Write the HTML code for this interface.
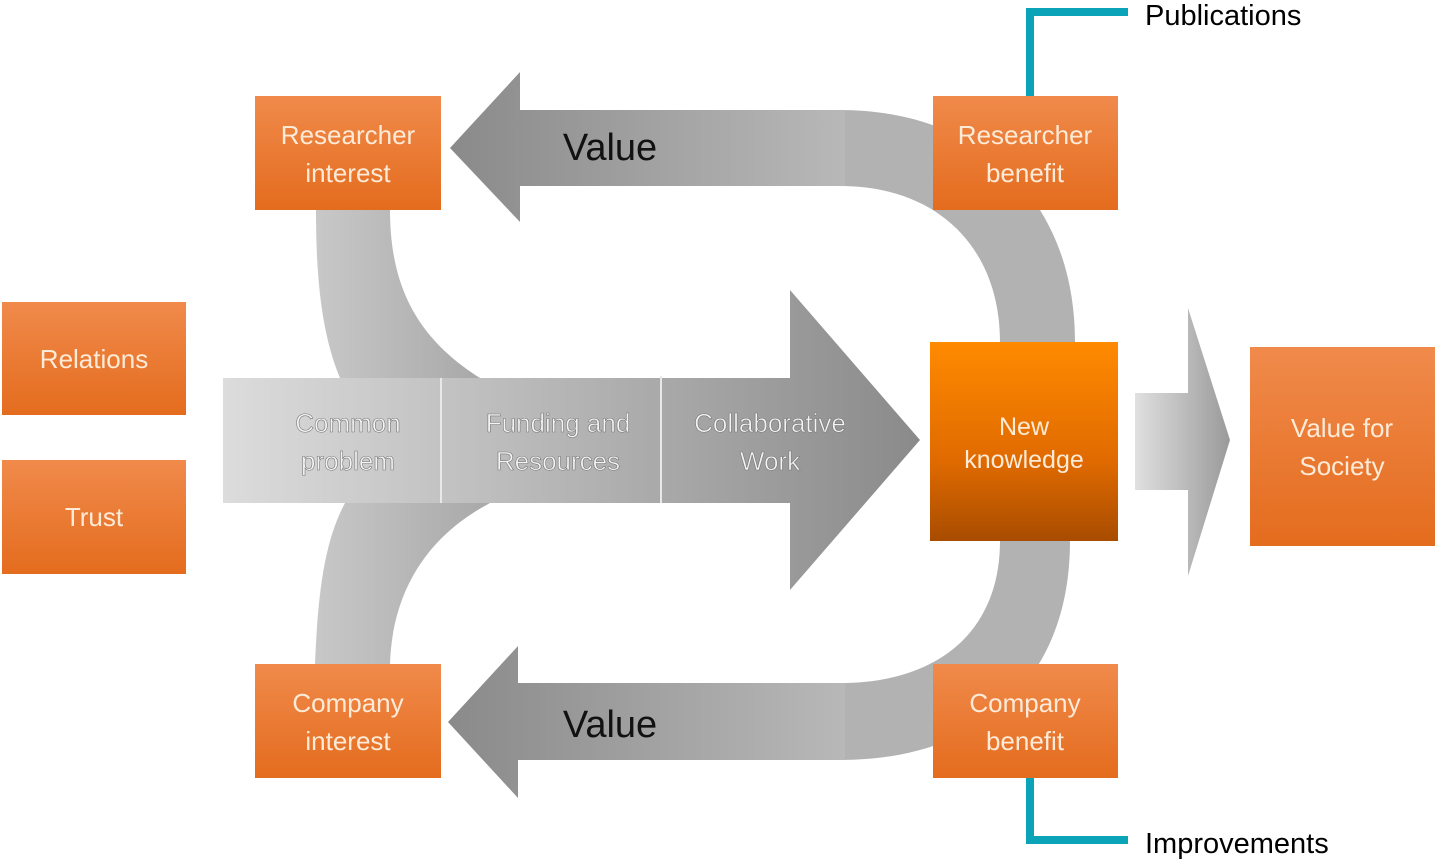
<!DOCTYPE html>
<html><head><meta charset="utf-8"><style>
body{margin:0;background:#fff;}
svg{display:block}
text{font-family:"Liberation Sans",sans-serif}
</style></head><body>
<svg width="1436" height="860" viewBox="0 0 1436 860" xmlns="http://www.w3.org/2000/svg">
<defs>
<linearGradient id="gh" x1="0" x2="1" y1="0" y2="0"><stop offset="0" stop-color="#dcdcdc"/><stop offset="0.5" stop-color="#b4b4b4"/><stop offset="1" stop-color="#8a8a8a"/></linearGradient>
<linearGradient id="gv" x1="0" x2="1"><stop offset="0" stop-color="#c8c8c8"/><stop offset="1" stop-color="#a8a8a8"/></linearGradient>
<linearGradient id="gr" x1="0" x2="1"><stop offset="0" stop-color="#e0e0e0"/><stop offset="1" stop-color="#9a9a9a"/></linearGradient>
<linearGradient id="or" x1="0" x2="0" y1="0" y2="1"><stop offset="0" stop-color="#f08a4b"/><stop offset="1" stop-color="#e46c1e"/></linearGradient>
<linearGradient id="nk" x1="0" x2="0" y1="0" y2="1"><stop offset="0" stop-color="#ff8a00"/><stop offset="0.6" stop-color="#e06a00"/><stop offset="1" stop-color="#a84c00"/></linearGradient>
<linearGradient id="va" x1="0" x2="1"><stop offset="0" stop-color="#8a8a8a"/><stop offset="1" stop-color="#b8b8b8"/></linearGradient>
</defs>
<!-- left curves -->
<path d="M316 210 L390 210 C390 290 420 340 480 378 L340 378 C320 330 316 270 316 210 Z" fill="url(#gv)"/>
<path d="M345 503 L490 503 C420 540 392 600 390 664 L315 664 C318 590 325 540 345 503 Z" fill="url(#gv)"/>
<!-- right curves -->
<path d="M840 110 C980 110 1075 200 1075 342 L1000 342 C1000 250 940 186 840 186 Z" fill="#b2b2b2"/>
<path d="M1070 541 C1070 680 980 760 840 760 L840 683 C940 683 1000 630 1000 541 Z" fill="#b2b2b2"/>
<!-- top value arrow -->
<path d="M450 148 L520 72 L520 110 L845 110 L845 186 L520 186 L520 222 Z" fill="url(#va)"/>
<path d="M448 722 L518 646 L518 683 L845 683 L845 760 L518 760 L518 798 Z" fill="url(#va)"/>
<text x="610" y="160" font-size="38" text-anchor="middle" fill="#111">Value</text>
<text x="610" y="737" font-size="38" text-anchor="middle" fill="#111">Value</text>
<!-- main arrow -->
<path d="M223 378 L790 378 L790 290 L920 440 L790 590 L790 503 L223 503 Z" fill="url(#gh)"/>
<line x1="441" y1="378" x2="441" y2="503" stroke="#e8e8e8" stroke-width="2"/>
<line x1="661" y1="376" x2="661" y2="503" stroke="#e8e8e8" stroke-width="2"/>
<g font-size="26" fill="#f4f4f4" text-anchor="middle" stroke="#777" stroke-width="0.6">
<text x="348" y="432">Common</text><text x="348" y="470">problem</text>
<text x="558" y="432">Funding and</text><text x="558" y="470">Resources</text>
<text x="770" y="432">Collaborative</text><text x="770" y="470">Work</text>
</g>
<!-- right arrow -->
<path d="M1135 393 L1188 393 L1188 308 L1230 440 L1188 576 L1188 490 L1135 490 Z" fill="url(#gr)"/>
<!-- teal lines -->
<path d="M1030 96 L1030 12 L1128 12" fill="none" stroke="#0aa3b8" stroke-width="8"/>
<path d="M1030 778 L1030 840 L1128 840" fill="none" stroke="#0aa3b8" stroke-width="8"/>
<text x="1145" y="25" font-size="29" fill="#000">Publications</text>
<text x="1145" y="853" font-size="29" fill="#000">Improvements</text>
<!-- boxes -->
<g fill="url(#or)">
<rect x="2" y="302" width="184" height="113"/>
<rect x="2" y="460" width="184" height="114"/>
<rect x="255" y="96" width="186" height="114"/>
<rect x="933" y="96" width="185" height="114"/>
<rect x="255" y="664" width="186" height="114"/>
<rect x="933" y="664" width="185" height="114"/>
<rect x="1250" y="347" width="185" height="199"/>
</g>
<rect x="930" y="342" width="188" height="199" fill="url(#nk)"/>
<g font-size="26" fill="#fdebd8" text-anchor="middle">
<text x="94" y="368">Relations</text>
<text x="94" y="526">Trust</text>
<text x="348" y="144">Researcher</text><text x="348" y="182">interest</text>
<text x="1025" y="144">Researcher</text><text x="1025" y="182">benefit</text>
<text x="348" y="712">Company</text><text x="348" y="750">interest</text>
<text x="1025" y="712">Company</text><text x="1025" y="750">benefit</text>
<text x="1342" y="437">Value for</text><text x="1342" y="475">Society</text>
<text x="1024" y="435" font-size="25">New</text><text x="1024" y="468" font-size="25">knowledge</text>
</g>
</svg>
</body></html>
